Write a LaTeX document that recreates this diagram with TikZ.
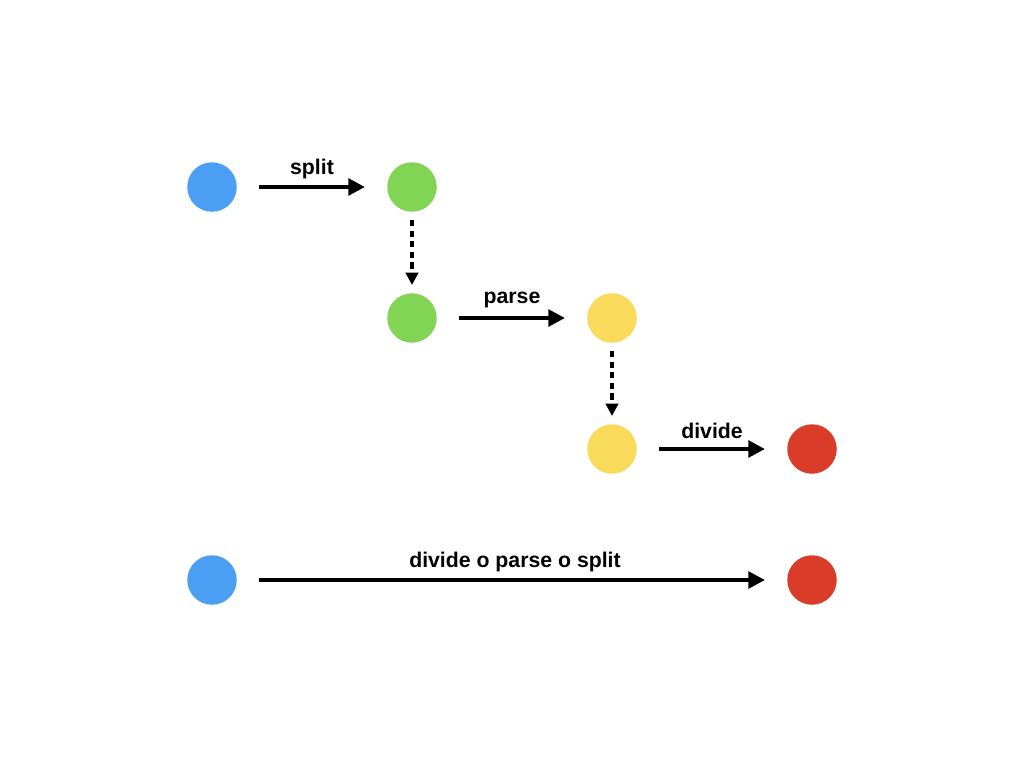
\documentclass[tikz,border=0pt]{standalone}
\usepackage{fontspec}
\setmainfont{Liberation Sans}
\usetikzlibrary{arrows.meta}
\definecolor{cblue}{HTML}{4A9FF5}
\definecolor{cgreen}{HTML}{82D455}
\definecolor{cyellow}{HTML}{F9DA5A}
\definecolor{cred}{HTML}{D93D2A}
\begin{document}
\begin{tikzpicture}[x=0.02cm,y=-0.02cm,
  dot/.style={circle, minimum size=0.99cm, inner sep=0pt, draw=none},
  arr/.style={line width=2.2pt, -{Triangle[length=9.5pt,width=9.5pt]}, shorten <=12.5pt, shorten >=12.5pt},
  darr/.style={line width=2.2pt, dash pattern=on 3.6pt off 2.4pt, -{Triangle[length=7pt,width=7pt]}, shorten <=4.5pt, shorten >=4.5pt},
  lab/.style={font=\fontsize{12.1pt}{14pt}\selectfont\bfseries, yshift=10.2pt}]
\useasboundingbox (0,0) rectangle (1024,768);
\node[dot, fill=cblue] (a) at (212,187) {};
\node[dot, fill=cgreen] (b) at (412,187) {};
\node[dot, fill=cgreen] (c) at (412,318) {};
\node[dot, fill=cyellow] (d) at (612,318) {};
\node[dot, fill=cyellow] (e) at (612,449) {};
\node[dot, fill=cred] (f) at (812,449) {};
\node[dot, fill=cblue] (g) at (212,580) {};
\node[dot, fill=cred] (h) at (812,580) {};
\draw[arr] (a) -- node[lab] (l1) {split} (b);
\draw[darr] (b) -- (c);
\draw[arr] (c) -- node[lab] (l2) {parse} (d);
\draw[darr] (d) -- (e);
\draw[arr] (e) -- node[lab] (l3) {divide} (f);
\draw[arr] (g) -- node[lab, xshift=1.7pt] (l4) {divide o parse o split} (h);
\end{tikzpicture}
\end{document}
